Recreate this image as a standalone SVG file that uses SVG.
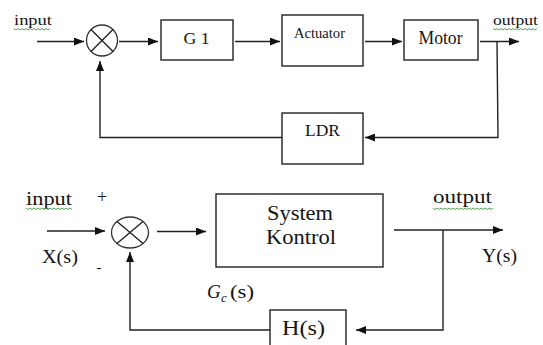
<svg xmlns="http://www.w3.org/2000/svg" width="543" height="345" viewBox="0 0 543 345">
  <defs>
    <marker id="arrow" markerUnits="userSpaceOnUse" markerWidth="10" markerHeight="8" refX="10" refY="4" orient="auto">
      <path d="M0,0 L10,4 L0,8 z" fill="#111"/>
    </marker>
    <style>
      .box { fill: #fff; stroke: #222; stroke-width: 1.4; }
      .sum { fill: #fff; stroke: #333; stroke-width: 1.3; }
      .wire { fill: none; stroke: #222; stroke-width: 1.4; }
      .arrow { marker-end: url(#arrow); }
      .lbl { fill: #141414; }
      .mid { text-anchor: middle; }
      .squiggle { fill: none; stroke: #3c9c3c; stroke-width: 0.9; }
    </style>
  </defs>

  <rect width="543" height="345" fill="#fff"/>

  <!-- connectors -->
  <g id="connectors">
    <!-- upper loop -->
    <path class="wire arrow" d="M37,41.5 H84"/>
    <path class="wire arrow" d="M119,41.5 H158"/>
    <path class="wire arrow" d="M235,41.5 H280"/>
    <path class="wire arrow" d="M365,41.5 H402"/>
    <path class="wire arrow" d="M480,41.5 H519"/>
    <path class="wire arrow" d="M497,41.5 L498,137.5 H365"/>
    <path class="wire arrow" d="M282,137.5 H100 V61"/>
    <!-- lower loop -->
    <path class="wire arrow" d="M47,231 H105"/>
    <path class="wire arrow" d="M157,231.5 H206"/>
    <path class="wire arrow" d="M394,230 H503"/>
    <path class="wire arrow" d="M443,230 V330 H356"/>
    <path class="wire arrow" d="M270,330 H130 V252"/>
  </g>

  <g font-family="Liberation Serif, Times New Roman, serif">
  <!-- upper loop nodes -->
  <g id="sum1">
    <circle class="sum" cx="102" cy="40.5" r="15.5"/>
    <path class="wire" d="M91,29.5 L113,51.5 M113,29.5 L91,51.5" stroke-width="1.1"/>
  </g>
  <g id="g1">
    <rect class="box" x="161" y="20" width="72" height="40"/>
    <text class="lbl mid" x="196.5" y="43.5" font-size="17.5" textLength="26" lengthAdjust="spacingAndGlyphs">G 1</text>
  </g>
  <g id="actuator">
    <rect class="box" x="282" y="15" width="81" height="51"/>
    <text class="lbl mid" x="319.5" y="37.5" font-size="15" textLength="51" lengthAdjust="spacingAndGlyphs">Actuator</text>
  </g>
  <g id="motor">
    <rect class="box" x="404" y="20" width="74" height="40"/>
    <text class="lbl mid" x="440.5" y="44" font-size="18" textLength="44" lengthAdjust="spacingAndGlyphs">Motor</text>
  </g>
  <g id="ldr">
    <rect class="box" x="282" y="113" width="81" height="51"/>
    <text class="lbl mid" x="322.5" y="136" font-size="17" textLength="35" lengthAdjust="spacingAndGlyphs">LDR</text>
  </g>
  <g id="labels-top">
    <text class="lbl" x="14" y="25" font-size="15" textLength="38" lengthAdjust="spacingAndGlyphs">input</text>
    <path class="squiggle" d="M14,28.5 l2,1.5 l2,-1.5 l2,1.5 l2,-1.5 l2,1.5 l2,-1.5 l2,1.5 l2,-1.5 l2,1.5 l2,-1.5 l2,1.5 l2,-1.5 l2,1.5 l2,-1.5 l2,1.5 l2,-1.5 l2,1.5 l2,-1.5"/>
    <text class="lbl" x="493" y="25" font-size="15" textLength="45" lengthAdjust="spacingAndGlyphs">output</text>
    <path class="squiggle" d="M493,28.5 l2,1.5 l2,-1.5 l2,1.5 l2,-1.5 l2,1.5 l2,-1.5 l2,1.5 l2,-1.5 l2,1.5 l2,-1.5 l2,1.5 l2,-1.5 l2,1.5 l2,-1.5 l2,1.5 l2,-1.5 l2,1.5 l2,-1.5 l2,1.5 l2,-1.5 l2,1.5 l2,-1.5"/>
  </g>

  <!-- lower loop nodes -->
  <g id="sum2">
    <ellipse class="sum" cx="130" cy="232.5" rx="18.5" ry="15.5"/>
    <path class="wire" d="M117,221.5 L143,243.5 M143,221.5 L117,243.5" stroke-width="1.1"/>
  </g>
  <g id="system-kontrol">
    <rect class="box" x="216" y="194" width="167" height="73"/>
    <text class="lbl mid" x="300" y="220" font-size="20" textLength="66" lengthAdjust="spacingAndGlyphs">System</text>
    <text class="lbl mid" x="301" y="244" font-size="20" textLength="70" lengthAdjust="spacingAndGlyphs">Kontrol</text>
  </g>
  <g id="hs">
    <rect class="box" x="270" y="310" width="76" height="42"/>
    <text class="lbl" x="282" y="335" font-size="20" textLength="43" lengthAdjust="spacingAndGlyphs">H(s)</text>
  </g>
  <g id="labels-bottom">
    <text class="lbl" x="26" y="205" font-size="18" textLength="46" lengthAdjust="spacingAndGlyphs">input</text>
    <path class="squiggle" d="M26,208 l2,1.5 l2,-1.5 l2,1.5 l2,-1.5 l2,1.5 l2,-1.5 l2,1.5 l2,-1.5 l2,1.5 l2,-1.5 l2,1.5 l2,-1.5 l2,1.5 l2,-1.5 l2,1.5 l2,-1.5 l2,1.5 l2,-1.5 l2,1.5 l2,-1.5 l2,1.5 l2,-1.5 l2,1.5"/>
    <text class="lbl mid" x="102" y="203" font-size="18">+</text>
    <text class="lbl mid" x="99" y="272" font-size="15">-</text>
    <text class="lbl" x="42" y="263" font-size="19" textLength="36" lengthAdjust="spacingAndGlyphs">X(s)</text>
    <text class="lbl" x="433" y="203" font-size="18" textLength="59" lengthAdjust="spacingAndGlyphs">output</text>
    <path class="squiggle" d="M433,208 l2,1.5 l2,-1.5 l2,1.5 l2,-1.5 l2,1.5 l2,-1.5 l2,1.5 l2,-1.5 l2,1.5 l2,-1.5 l2,1.5 l2,-1.5 l2,1.5 l2,-1.5 l2,1.5 l2,-1.5 l2,1.5 l2,-1.5 l2,1.5 l2,-1.5 l2,1.5 l2,-1.5 l2,1.5 l2,-1.5 l2,1.5 l2,-1.5 l2,1.5 l2,-1.5 l2,1.5 l2,-1.5"/>
    <text class="lbl" x="482" y="262" font-size="19" textLength="35" lengthAdjust="spacingAndGlyphs">Y(s)</text>
    <text class="lbl" x="207" y="298" font-size="19" font-style="italic">G</text>
    <text class="lbl" x="221" y="302" font-size="13" font-style="italic">c</text>
    <text class="lbl" x="230" y="298" font-size="19" textLength="24" lengthAdjust="spacingAndGlyphs">(s)</text>
  </g>
  </g>
</svg>
